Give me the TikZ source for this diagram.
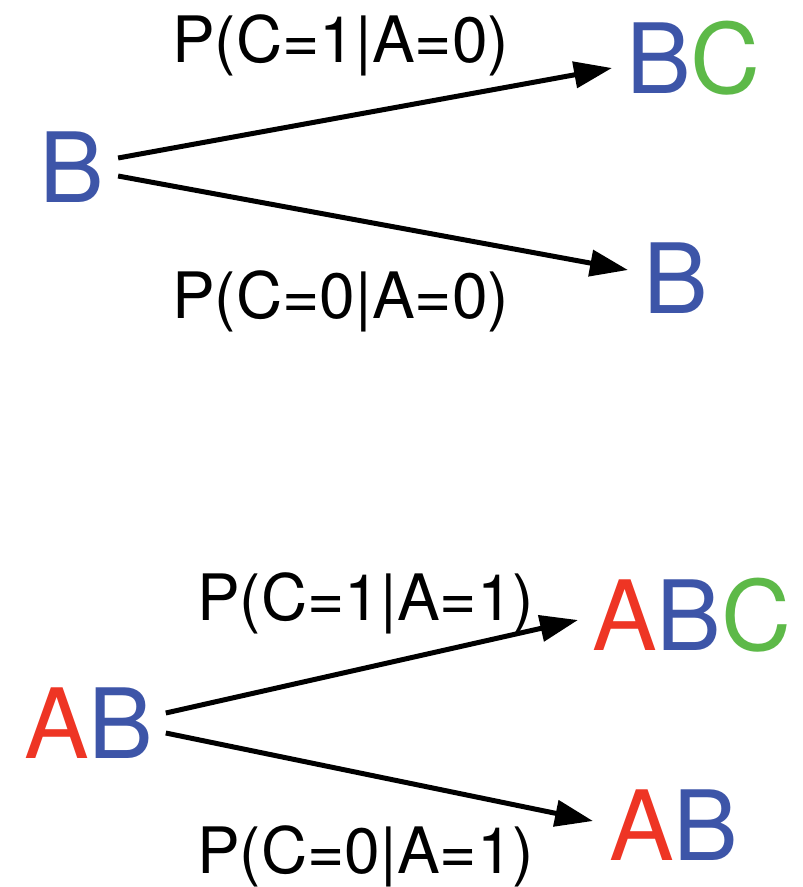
\documentclass[tikz,border=0pt]{standalone}
\usepackage{fontspec}
\setmainfont{TeX Gyre Heros}
\usetikzlibrary{arrows.meta}
\definecolor{aRed}{RGB}{238,53,36}
\definecolor{bBlue}{RGB}{61,85,168}
\definecolor{cGreen}{RGB}{93,185,72}
\newcommand{\va}{\textcolor{aRed}{A}}
\newcommand{\vb}{\textcolor{bBlue}{B}}
\newcommand{\vc}{\textcolor{cGreen}{C}}

\begin{document}
\begin{tikzpicture}[x=1pt, y=-1pt,
    state/.style={inner sep=0pt, anchor=base west, font=\fontsize{97}{116}\selectfont},
    prob/.style={inner sep=0pt, anchor=base west, font=\fontsize{64}{77}\selectfont},
    arr/.style={line width=5pt, -{Triangle[length=38pt, width=26pt]}}]
    \useasboundingbox (0,0) rectangle (803,887);

    % A = 0
    \node at (39, 202) [state] (b0) {\vb};
    \node at (626, 93) [state] (bc) {\vb\vc};
    \node at (643, 313) [state] (b1) {\vb};
    \node at (172, 62) [prob] (p10) {P(C=1|A=0)};
    \node at (172, 318) [prob] (p00) {P(C=0|A=0)};

    \draw[arr] ([shift={(14,-44)}]b0.base east) -- ([shift={(-14,-25)}]bc.base west);
    \draw[arr] ([shift={(14,-26)}]b0.base east) -- ([shift={(-15,-43)}]b1.base west);

    % A = 1
    \node at (24, 758) [state] (ab0) {\va\vb};
    \node at (592, 650) [state] (abc) {\va\vb\vc};
    \node at (609, 860) [state] (ab1) {\va\vb};
    \node at (197, 620) [prob] (p11) {P(C=1|A=1)};
    \node at (197, 873) [prob] (p01) {P(C=0|A=1)};

    \draw[arr] ([shift={(12,-45)}]ab0.base east) -- ([shift={(-14,-30)}]abc.base west);
    \draw[arr] ([shift={(12,-25)}]ab0.base east) -- ([shift={(-16,-39)}]ab1.base west);
\end{tikzpicture}
\end{document}
